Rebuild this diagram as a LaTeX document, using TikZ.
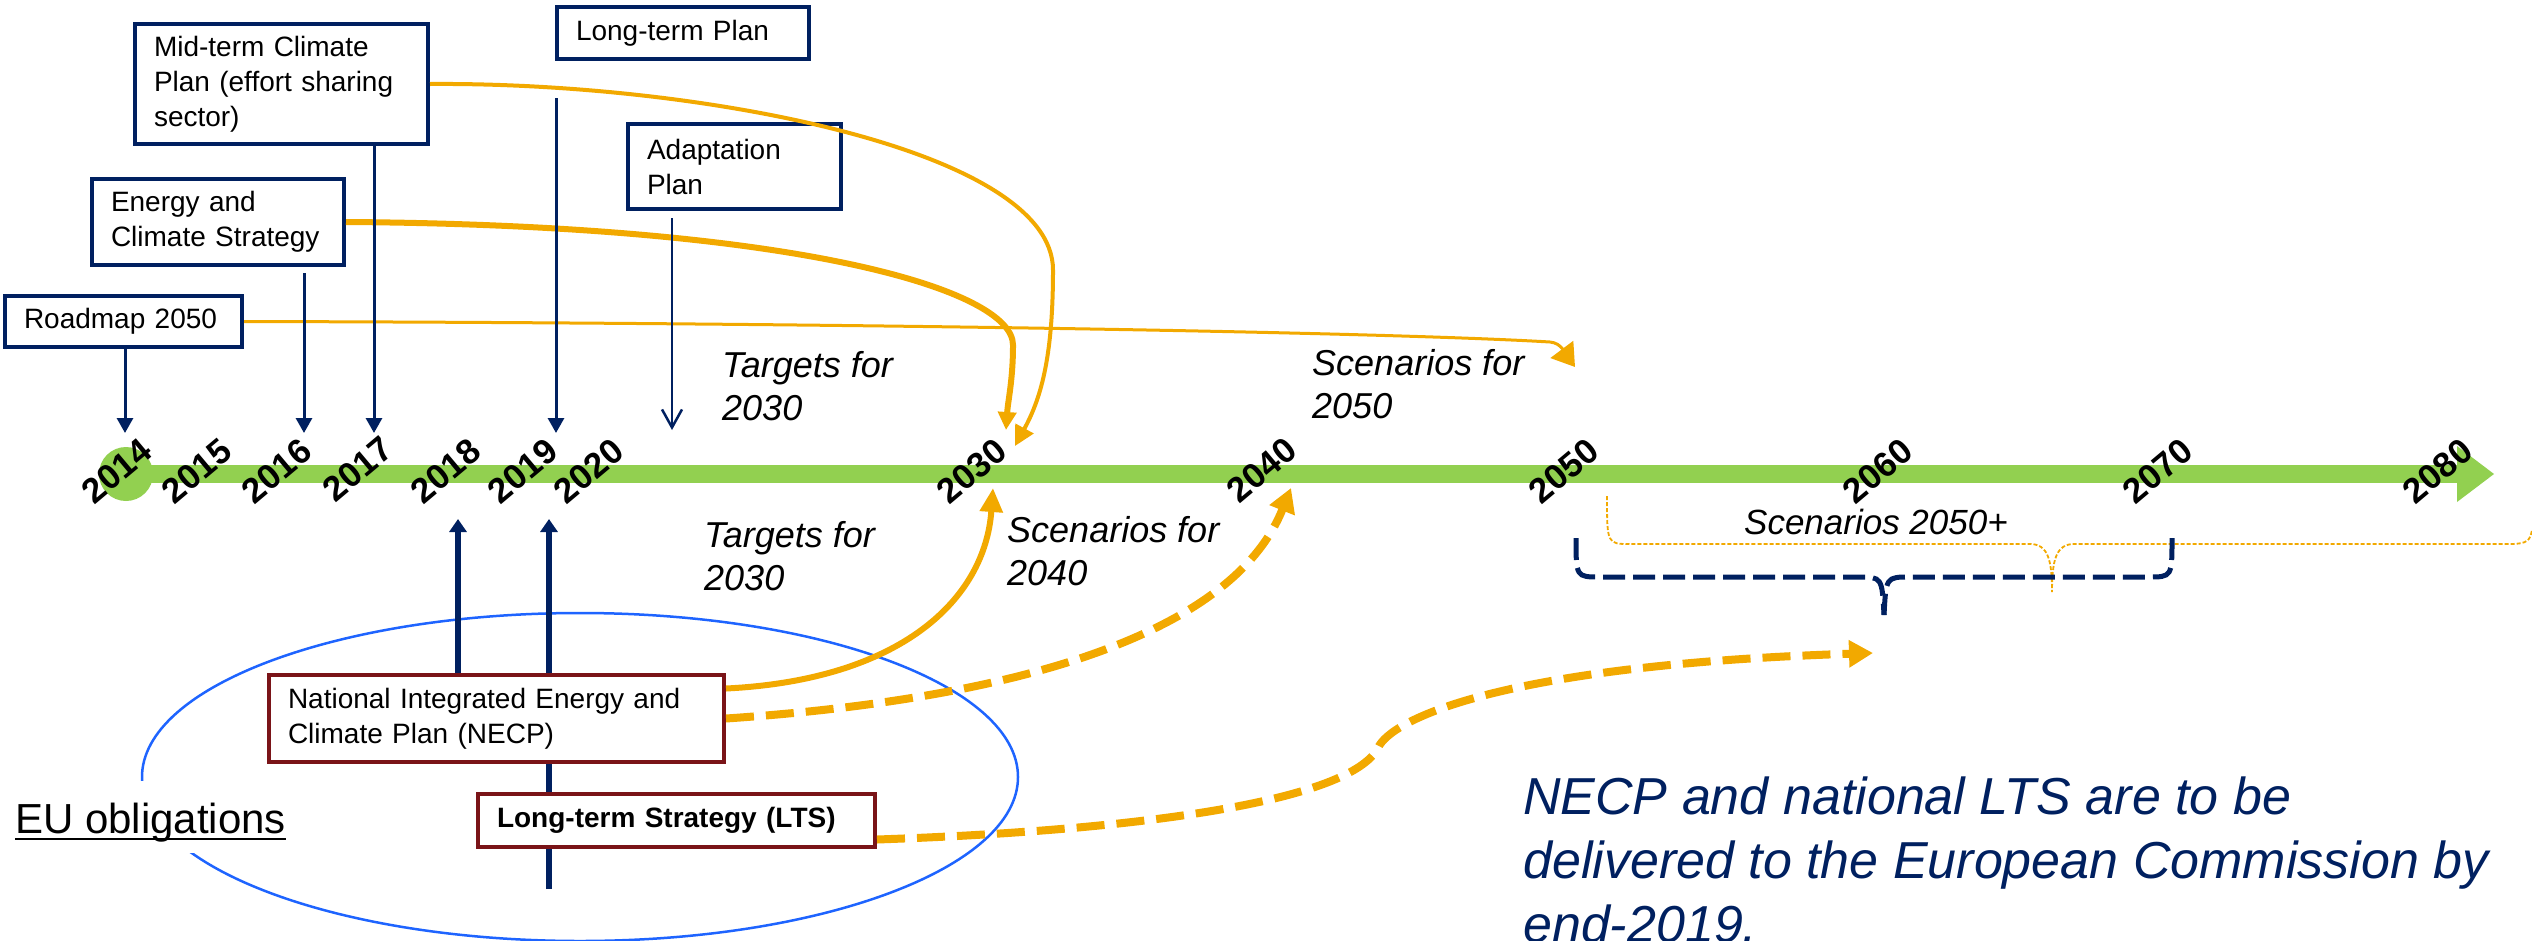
\documentclass[tikz,border=0pt]{standalone}
\usepackage{fontspec}
\setmainfont{Liberation Sans}
\usetikzlibrary{arrows.meta}
\definecolor{navy}{RGB}{0,32,96}
\definecolor{ora}{RGB}{242,169,0}
\definecolor{grn}{RGB}{146,208,80}
\definecolor{dred}{RGB}{122,20,24}
\definecolor{eblue}{RGB}{30,100,255}
\begin{document}
\begin{tikzpicture}[x=1pt,y=-1pt,
  box/.style={draw=navy, line width=4pt, fill=white, inner xsep=19pt, inner ysep=0pt, align=left, font=\fontsize{28}{35}\selectfont},
  rbox/.style={box, draw=dred},
  yr/.style={rotate=40, font=\fontsize{35}{35}\selectfont\bfseries, inner sep=0pt},
  lab/.style={anchor=north west, inner sep=0pt, align=left, font=\fontsize{36}{43}\selectfont\itshape},
  darr/.style={navy, line width=3pt, -{Triangle[length=15pt,width=16pt]}},
  uarr/.style={navy, line width=6pt, -{Triangle[length=13pt,width=17pt]}},
  oarr/.style={ora, -{Triangle[length=#1pt,width=#1pt]}},
  odash/.style={ora, line width=8pt, dash pattern=on 28pt off 12pt, -{Triangle[length=24pt,width=26pt]}}
]
\useasboundingbox (0,0) rectangle (2532,940);

% timeline anchor coordinates
\coordinate (a2014) at (125,433);
\coordinate (a2016) at (304,433);
\coordinate (a2017) at (374,433);
\coordinate (a2019) at (556,433);
\coordinate (s2019) at (556,98);
\coordinate (a2020) at (672,430);
\coordinate (s2020) at (672,218);
\coordinate (s2016) at (304,273);
\coordinate (t2030a) at (1006,430);
\coordinate (t2030b) at (1015,446);
\coordinate (t2030c) at (993,488);
\coordinate (t2040) at (1291,488);
\coordinate (t2050) at (1575,367);
\coordinate (t2060) at (1873,653);
\coordinate (u2018) at (458,519);
\coordinate (u2019) at (549,519);
\coordinate (b2019) at (549,889);

% EU obligations ellipse
\draw[eblue, line width=2.5pt] (580,777) ellipse [x radius=438pt, y radius=164pt];
\node[anchor=base west, inner sep=0pt, fill=white, text height=52pt, text depth=20pt,
      font=\fontsize{42}{42}\selectfont] (eu) at (15,833) {EU obligations};
\draw[line width=2.5pt] ([yshift=-6pt]eu.base west) -- ([yshift=-6pt]eu.base east);

% timeline bar
\fill[grn] (126,465) rectangle (2458,483);
\fill[grn] (2457,446) -- (2494,474) -- (2457,502) -- cycle;
\fill[grn] (126,474) circle [radius=27pt];

% year labels
\node[yr] (y2014) at (117,471) {2014};
\node[yr] (y2015) at (197,471) {2015};
\node[yr] (y2016) at (277,471) {2016};
\node[yr] (y2017) at (358,469) {2017};
\node[yr] (y2018) at (446,471) {2018};
\node[yr] (y2019) at (523,471) {2019};
\node[yr] (y2020) at (589,471) {2020};
\node[yr] (y2030) at (972,471) {2030};
\node[yr] (y2040) at (1262,470) {2040};
\node[yr] (y2050) at (1564,471) {2050};
\node[yr] (y2060) at (1878,471) {2060};
\node[yr] (y2070) at (2158,471) {2070};
\node[yr] (y2080) at (2438,471) {2080};

% line through the EU boxes (behind them)
\draw[uarr] (b2019) -- (u2019);

% boxes
\node[box, minimum width=237pt, minimum height=51pt, text width=199pt] (rm) at (123.5,321.5) {Roadmap 2050};
\node[box, minimum width=252pt, minimum height=86pt, text width=214pt] (ecs) at (218,222) {Energy and\\Climate Strategy};
\node[box, minimum width=293pt, minimum height=120pt, text width=255pt] (mtc) at (281.5,84) {Mid-term Climate\\Plan (effort sharing\\sector)};
\node[box, minimum width=252pt, minimum height=52pt, text width=214pt] (ltp) at (683,33) {Long-term Plan};
\node[box, minimum width=213pt, minimum height=85pt, text width=175pt] (adp) at (734.5,166.5) {Adaptation\\Plan};
\node[rbox, minimum width=455pt, minimum height=87pt, text width=417pt] (necp) at (496.5,718.5) {National Integrated Energy and\\Climate Plan (NECP)};
\node[rbox, minimum width=397pt, minimum height=53pt, text width=359pt, font=\fontsize{28}{35}\selectfont\bfseries] (lts) at (676.5,820.5) {Long-term Strategy (LTS)};

% orange arrows from national plans
\draw[oarr=18, line width=6pt] (ecs.east) .. controls (800,225) and (1013,290) .. (1013,345)
  .. controls (1013,380) and (1008,400) .. (t2030a);
\draw[oarr=20, line width=4pt] (mtc.east) .. controls (700,82) and (1053,150) .. (1053,270)
  .. controls (1053,360) and (1040,400) .. (t2030b);
\draw[ora, line width=3pt, -{Triangle[length=22pt,width=28pt]}] (rm.east) .. controls (900,323) and (1400,333) .. (1550,342)
  .. controls (1562,343) and (1566,355) .. (t2050);

% orange arrows from EU obligations
\draw[ora, line width=6pt, -{Triangle[length=24pt,width=22pt]}] ([yshift=30pt]necp.east) .. controls (900,680) and (985,600) .. (t2030c);
\draw[odash] (necp.east) .. controls (1000,700) and (1230,640) .. (t2040);
\draw[odash] ([yshift=-19pt]lts.east) .. controls (1150,830) and (1350,800) .. (1378,748)
  .. controls (1390,720) and (1500,665) .. (t2060);

% navy arrows to the timeline
\draw[darr] (rm.south -| a2014) -- (a2014);
\draw[darr] (s2016) -- (a2016);
\draw[darr] (mtc.south -| a2017) -- (a2017);
\draw[darr] (s2019) -- (a2019);
\draw[navy, line width=2.5pt, -{Straight Barb[length=18pt,width=20pt]}] (s2020) -- (a2020);
\draw[uarr] (necp.north -| u2018) -- (u2018);

% labels
\node[lab] (tg1) at (722,351) {Targets for\\2030};
\node[lab] (sc1) at (1312,349) {Scenarios for\\2050};
\node[lab] (tg2) at (704,521) {Targets for\\2030};
\node[lab] (sc2) at (1007,516) {Scenarios for\\2040};
\node[inner sep=0pt, font=\fontsize{35}{35}\selectfont\itshape] (sc3) at (1876,522) {Scenarios 2050+};

% braces
\draw[ora, line width=1.8pt, dash pattern=on 4pt off 2pt] (1607,496) .. controls (1607,544) .. (1630,544) -- (2030,544)
  .. controls (2048,544) and (2052,560) .. (2052,592) .. controls (2052,560) and (2056,544) .. (2074,544) -- (2510,544)
  .. controls (2528,544) and (2530,540) .. (2532,530);
\draw[navy, line width=5pt, dash pattern=on 22pt off 8pt] (1576,538) .. controls (1576,577) .. (1600,577) -- (1858,577)
  .. controls (1882,577) .. (1884,615);
\draw[navy, line width=5pt, dash pattern=on 22pt off 8pt] (2172,538) .. controls (2172,577) .. (2148,577) -- (1910,577)
  .. controls (1886,577) .. (1884,615);

% note
\node[anchor=north west, inner sep=0pt, align=left, text=navy, font=\fontsize{52}{64}\selectfont\itshape] (note) at (1523,777)
  {NECP and national LTS are to be\\delivered to the European Commission by\\end-2019.};
\end{tikzpicture}
\end{document}
